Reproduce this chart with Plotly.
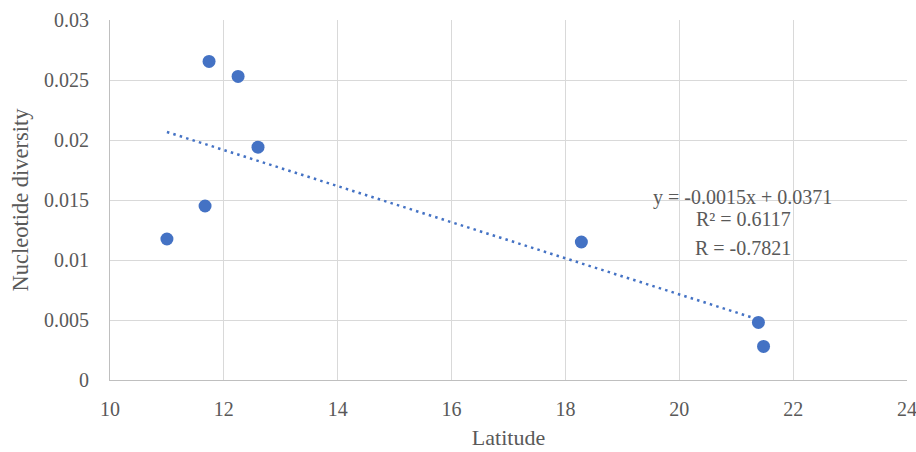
import numpy as np
import plotly.graph_objects as go

latitude = [11.0, 11.67, 11.74, 12.25, 12.60, 18.28, 21.39, 21.48]
diversity = [0.01175, 0.0145, 0.02655, 0.0253, 0.0194, 0.0115, 0.0048, 0.0028]

x_ticks = [10, 12, 14, 16, 18, 20, 22, 24]
y_ticks = [0, 0.005, 0.01, 0.015, 0.02, 0.025, 0.03]
y_tick_text = ["0", "0.005", "0.01", "0.015", "0.02", "0.025", "0.03"]

eq_lines = ["y = -0.0015x + 0.0371", "R² = 0.6117", "R = -0.7821"]
eq_x = [21.11, 21.12, 21.12]
eq_y = [0.01525, 0.01342, 0.0110]

slope, intercept = np.polyfit(latitude, diversity, 1)
trend_x = [min(latitude), max(latitude)]
trend_y = [slope * v + intercept for v in trend_x]

blue = "#4472C4"
grey = "#595959"
font = "Liberation Serif"

fig = go.Figure()
fig.add_trace(go.Scatter(x=trend_x, y=trend_y, mode="lines",
                         line=dict(color=blue, width=2.5, dash="2.5px,4.2px"),
                         hoverinfo="skip", showlegend=False))
fig.add_trace(go.Scatter(x=latitude, y=diversity, mode="markers",
                         marker=dict(color=blue, size=13),
                         showlegend=False))

for ax, ay, txt in zip(eq_x, eq_y, eq_lines):
    fig.add_annotation(x=ax, y=ay, xref="x", yref="y", text=txt,
                       showarrow=False, xanchor="center", yanchor="middle",
                       font=dict(family=font, size=20, color=grey))

fig.update_layout(
    width=916, height=452,
    margin=dict(l=110, r=9, t=20, b=72, autoexpand=False),
    paper_bgcolor="white", plot_bgcolor="white",
    font=dict(family=font, size=20, color=grey),
)
fig.update_xaxes(range=[10, 24], tickvals=x_ticks, showgrid=True,
                 gridcolor="#d9d9d9", gridwidth=1, zeroline=False,
                 showline=True, linecolor="#bfbfbf", linewidth=1,
                 ticklabelstandoff=11, ticklabeloverflow="allow",
                 title=dict(text="Latitude", standoff=10,
                            font=dict(family=font, size=22, color=grey)),
                 tickfont=dict(family=font, size=20, color=grey))
fig.update_yaxes(range=[0, 0.03], tickvals=y_ticks, ticktext=y_tick_text,
                 showgrid=True, gridcolor="#d9d9d9", gridwidth=1,
                 zeroline=False, showline=True, linecolor="#bfbfbf",
                 linewidth=1, ticklabelstandoff=16, ticklabeloverflow="allow",
                 title=dict(text="Nucleotide diversity", standoff=9,
                            font=dict(family=font, size=22.5, color=grey)),
                 tickfont=dict(family=font, size=20, color=grey))

page_css = ("document.body.style.margin='0';"
            "document.body.style.overflow='hidden';"
            "document.documentElement.style.overflow='hidden';")
fig.write_html("out.html", post_script=page_css,
               config={"displayModeBar": False})
